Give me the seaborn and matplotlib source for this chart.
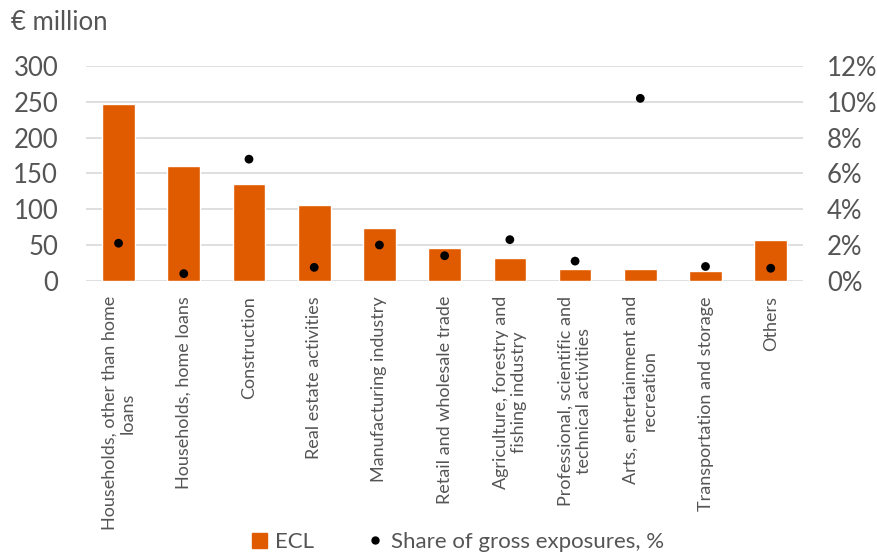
import matplotlib
matplotlib.use("Agg")
import matplotlib.pyplot as plt
import matplotlib.patches as mpatches
from matplotlib.lines import Line2D
import seaborn as sns

categories = [
    "Households, other than home\nloans",
    "Households, home loans",
    "Construction",
    "Real estate activities",
    "Manufacturing industry",
    "Retail and wholesale trade",
    "Agriculture, forestry and\nfishing industry",
    "Professional, scientific and\ntechnical activities",
    "Arts, entertainment and\nrecreation",
    "Transportation and storage",
    "Others",
]
ecl = [247, 161, 135, 106, 74, 46, 32, 16, 16, 13, 57]
share_pct = [2.1, 0.4, 6.8, 0.75, 2.0, 1.4, 2.3, 1.1, 10.2, 0.8, 0.7]

ORANGE = "#E05A00"
GREY_TXT = "#555555"
GRID = "#D9D9D9"

sns.set_style("white")
plt.rcParams["font.family"] = ["Lato", "DejaVu Sans"]

fig = plt.figure(figsize=(8.77, 5.56), dpi=100)
ax = fig.add_axes([0.098, 0.495, 0.818, 0.386])

sns.barplot(x=categories, y=ecl, color=ORANGE, width=0.5, saturation=1, ax=ax, zorder=2)
ax.set_ylim(0, 300)
ax.set_yticks(range(0, 301, 50))
ax.set_xlim(-0.5, len(categories) - 0.5)
ax.grid(axis="y", color=GRID, linewidth=1.2, zorder=0)
ax.set_axisbelow(True)
for s in ax.spines.values():
    s.set_visible(False)
ax.tick_params(axis="y", length=0, labelsize=18.5, labelcolor=GREY_TXT, pad=20)
ax.tick_params(axis="x", length=0, labelsize=13, labelcolor=GREY_TXT, pad=11)
ax.set_xticks(range(len(categories)))
ax.set_xticklabels(categories, rotation=90, ha="center", va="top", multialignment="center")
ax.set_xlabel("")
ax.set_ylabel("")

ax2 = ax.twinx()
sns.scatterplot(x=list(range(len(categories))), y=share_pct, color="black", s=40,
                edgecolor="none", ax=ax2, zorder=3)
ax2.set_ylim(0, 12)
ax2.set_yticks(range(0, 13, 2))
ax2.set_yticklabels([f"{v}%" for v in range(0, 13, 2)])
ax2.tick_params(axis="y", length=0, labelsize=18.5, labelcolor=GREY_TXT, pad=17)
for s in ax2.spines.values():
    s.set_visible(False)
ax2.grid(False)

fig.text(0.013, 0.96, "€ million", fontsize=18.5, color=GREY_TXT, ha="left", va="center")

handles = [
    mpatches.Patch(color=ORANGE, label="ECL"),
    Line2D([], [], marker="o", linestyle="none", color="black", markersize=5,
           label="Share of gross exposures, %"),
]
leg = fig.legend(handles=handles, loc="center", bbox_to_anchor=(0.522, 0.025), ncol=2,
                 frameon=False, fontsize=16, handlelength=0.7, handleheight=0.7,
                 handletextpad=0.35, columnspacing=2.4)
for t in leg.get_texts():
    t.set_color(GREY_TXT)

fig.savefig("out.png", dpi=100)
